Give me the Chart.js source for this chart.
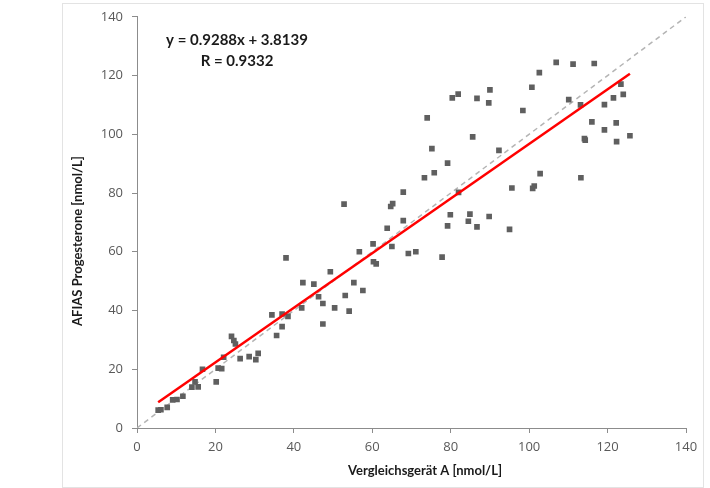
<!DOCTYPE html>
<html lang="de">
  <head>
    <meta charset="UTF-8" />
    <title>AFIAS Progesterone</title>
    <script src="https://cdn.jsdelivr.net/npm/chart.js"></script>
    <style>
      body { margin: 0; background: #fff; }
      #wrap { width: 710px; height: 488px; }
    </style>
  </head>
  <body>
    <div id="wrap"><canvas id="scatterChart" width="710" height="488"></canvas></div>
    <script>
      // Messwerte: Vergleichsgerät A (x) gegen AFIAS (y)
      var compX = [
        5.4, 6.1, 7.7, 9.1, 10.2, 11.7, 14.0, 14.8, 15.6, 16.7,
        20.2, 20.7, 21.6, 22.1, 24.1, 24.7, 25.1, 26.3, 28.6, 30.3,
        30.9, 34.4, 35.6, 37.0, 37.0, 38.0, 38.5, 42.0, 42.3, 45.1,
        46.3, 47.4, 47.4, 49.3, 50.4, 53.1, 54.1, 55.3, 56.7, 57.6,
        60.2, 60.3, 61.0, 63.8, 65.0, 64.7, 65.2, 67.9, 69.2, 71.1,
        52.8, 67.9, 74.0, 75.2, 73.3, 75.8, 79.2, 80.4, 81.9, 82.0,
        79.9, 84.9, 84.5, 85.6, 86.7, 89.7, 90.0, 89.8, 92.3, 95.6,
        100.9, 101.3, 102.8, 98.4, 100.7, 102.6, 106.9, 111.2, 116.6, 110.1,
        113.1, 113.2, 114.1, 114.3, 116.0, 119.2, 119.2, 121.5, 122.2, 122.3,
        123.4, 124.0, 125.7, 77.8, 79.2, 86.7, 95.0
      ];
      var afiasY = [
        6.1, 6.2, 7.0, 9.6, 9.7, 10.8, 13.9, 15.7, 14.0, 20.0,
        15.7, 20.4, 20.2, 24.1, 31.2, 29.8, 28.6, 23.6, 24.3, 23.3,
        25.4, 38.5, 31.5, 34.5, 38.8, 57.9, 38.0, 40.9, 49.5, 49.0,
        44.7, 42.4, 35.4, 53.2, 40.9, 45.1, 39.8, 49.5, 60.0, 46.8,
        62.7, 56.6, 55.9, 68.0, 61.8, 75.4, 76.4, 70.6, 59.4, 60.0,
        76.2, 80.3, 105.6, 95.1, 85.2, 86.9, 90.2, 112.4, 113.7, 80.2,
        72.6, 72.8, 70.4, 99.1, 112.2, 110.7, 115.1, 72.0, 94.5, 81.7,
        81.6, 82.4, 86.6, 108.1, 116.0, 121.0, 124.5, 123.9, 124.1, 111.8,
        110.0, 85.2, 98.5, 98.0, 104.2, 110.1, 101.5, 112.4, 103.9, 97.5,
        117.1, 113.6, 99.5, 58.2, 68.8, 68.5, 67.6
      ];

      // Regressionsgerade (Endpunkte) und Winkelhalbierende
      var fitX = [5.4, 125.7];
      var fitY = [8.8, 120.6];
      var diagX = [0, 140];
      var diagY = [0, 140];

      var eqText = ["y = 0.9288x + 3.8139", "R = 0.9332"];
      var xTitle = "Vergleichsgerät A [nmol/L]";
      var yTitle = "AFIAS Progesterone [nmol/L]";

      function toPoints(xs, ys) {
        return xs.map(function (x, i) { return { x: x, y: ys[i] }; });
      }

      var axisGrey = "#8c8c8c";
      var tickFont = { family: "Open Sans", size: 13 };

      // Rahmen, Achsentitel und Gleichung
      var textPlugin = {
        id: "textPlugin",
        beforeDraw: function (chart) {
          var ctx = chart.ctx;
          ctx.save();
          ctx.fillStyle = "#ffffff";
          ctx.fillRect(0, 0, chart.width, chart.height);
          ctx.strokeStyle = "#e3e3e3";
          ctx.lineWidth = 1;
          ctx.strokeRect(62.5, 3.5, 641, 484);
          ctx.restore();
        },
        afterDraw: function (chart) {
          var ctx = chart.ctx;
          ctx.save();
          ctx.fillStyle = "#1a1a1a";
          ctx.textAlign = "center";
          ctx.textBaseline = "middle";
          ctx.font = "bold 15px Lato";
          ctx.fillText(eqText[0], 237, 40);
          ctx.fillText(eqText[1], 237, 61);

          ctx.font = "bold 13px Lato";
          ctx.fillText(xTitle, 425, 471);
          ctx.translate(78, 241);
          ctx.rotate(-Math.PI / 2);
          ctx.fillText(yTitle, 0, 0);
          ctx.restore();
        }
      };

      var ctx = document.getElementById("scatterChart").getContext("2d");
      var chart = new Chart(ctx, {
        type: "scatter",
        data: {
          datasets: [
            {
              label: "Regression",
              data: toPoints(fitX, fitY),
              showLine: true,
              borderColor: "#ff0000",
              borderWidth: 2.5,
              pointRadius: 0,
              fill: false
            },
            {
              label: "Proben",
              data: toPoints(compX, afiasY),
              pointStyle: "rect",
              pointRadius: 4,
              backgroundColor: "#5f5f5f",
              borderColor: "#5f5f5f",
              borderWidth: 0
            },
            {
              label: "y = x",
              data: toPoints(diagX, diagY),
              showLine: true,
              borderColor: "#b4b4b4",
              borderWidth: 1.5,
              borderDash: [5, 4],
              pointRadius: 0,
              fill: false
            }
          ]
        },
        options: {
          responsive: false,
          animation: false,
          devicePixelRatio: 1,
          layout: { padding: { top: 14, right: 24, bottom: 0, left: 0 } },
          plugins: {
            legend: { display: false },
            tooltip: { enabled: false }
          },
          scales: {
            x: {
              type: "linear",
              min: 0,
              max: 140,
              afterFit: function (scale) { scale.height = 60; },
              ticks: { stepSize: 20, color: "#595959", font: tickFont, padding: 6, maxRotation: 0 },
              grid: { drawOnChartArea: false, drawTicks: true, tickLength: 5, color: axisGrey },
              border: { color: axisGrey, width: 1 }
            },
            y: {
              type: "linear",
              min: 0,
              max: 140,
              afterFit: function (scale) { scale.width = 137; },
              ticks: { stepSize: 20, color: "#595959", font: tickFont, padding: 9 },
              grid: { drawOnChartArea: false, drawTicks: true, tickLength: 5, color: axisGrey },
              border: { color: axisGrey, width: 1 }
            }
          }
        },
        plugins: [textPlugin]
      });
    </script>
  </body>
</html>
